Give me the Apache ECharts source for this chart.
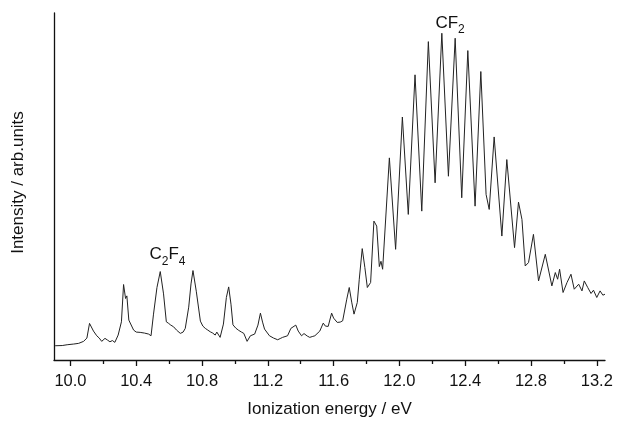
<!DOCTYPE html>
<html><head><meta charset="utf-8">
<script src="https://cdn.jsdelivr.net/npm/echarts@6/dist/echarts.min.js"></script>
<style>html,body{margin:0;padding:0;background:#fff}#c{width:617px;height:423px}</style>
</head><body><div id="c"></div>
<script>
// Photoelectron spectrum: ionization energy (eV) vs intensity (arb. units)
const energy = [
 9.907, 9.95, 9.98, 10.02, 10.05, 10.08, 10.10, 10.116, 10.14, 10.16,
 10.175, 10.19, 10.21, 10.225, 10.24, 10.255, 10.27, 10.29, 10.31, 10.323,
 10.335, 10.343, 10.355, 10.367, 10.384, 10.40, 10.424, 10.45, 10.475, 10.49,
 10.505, 10.526, 10.546, 10.566, 10.583, 10.597, 10.61, 10.627, 10.645, 10.668,
 10.685, 10.698, 10.719, 10.733, 10.745, 10.765, 10.79, 10.805, 10.82, 10.835,
 10.85, 10.865, 10.88, 10.89, 10.91, 10.93, 10.948, 10.962, 10.976, 10.988,
 11.005, 11.023, 11.04, 11.054, 11.074, 11.094, 11.12, 11.14, 11.155, 11.168,
 11.18, 11.21, 11.235, 11.26, 11.275, 11.29, 11.32, 11.34, 11.37, 11.385,
 11.405, 11.42, 11.43, 11.44, 11.455, 11.47, 11.486, 11.516, 11.537, 11.55,
 11.567, 11.588, 11.60, 11.622, 11.64, 11.655, 11.68, 11.695, 11.71, 11.724,
 11.744, 11.756, 11.774, 11.79, 11.805, 11.825, 11.845, 11.862, 11.878, 11.888,
 11.898, 11.939, 11.977, 12.018, 12.054, 12.095, 12.136, 12.176, 12.217, 12.258,
 12.298, 12.339, 12.379, 12.416, 12.46, 12.495, 12.527, 12.546, 12.576, 12.623,
 12.653, 12.70, 12.724, 12.745, 12.765, 12.785, 12.815, 12.846, 12.887, 12.927,
 12.948, 12.962, 12.974, 12.995, 13.019, 13.043, 13.063, 13.09, 13.11, 13.124,
 13.145, 13.165, 13.18, 13.20, 13.22, 13.237, 13.25
];
const intensity = [
 14.3, 14.5, 15.3, 16, 16.7, 18.7, 22, 36.7, 29, 24.3,
 22, 18.7, 21.7, 20, 18.3, 19.5, 17.7, 25, 38.3, 75.7,
 61.7, 64.3, 40, 41, 30, 28, 27.7, 27, 26, 24.3,
 46, 72.7, 88.7, 66.3, 38.3, 36.7, 35, 33.3, 30, 26.7,
 28, 31.7, 53, 76.3, 89.7, 69, 39, 34, 31.7, 30,
 28.3, 27, 25, 28, 22.7, 36, 62.7, 73.3, 56, 35.3,
 32, 29.7, 28, 26.7, 18.7, 24.3, 26, 35, 47, 38,
 31, 24.3, 22, 20.3, 21.5, 22.7, 24.3, 31.7, 35, 29,
 24.3, 26.5, 28, 24, 22.7, 23.5, 24.3, 29, 37, 34,
 33.7, 47, 42, 37.7, 38, 39.3, 61, 72.7, 58, 46,
 57.7, 81, 111.7, 92.7, 72.7, 77.7, 139.3, 134.3, 93.7, 99,
 91, 202.7, 111, 243.7, 146, 286, 149.3, 319.3, 177.7, 327.7,
 184.3, 322.7, 162.7, 310.3, 154.3, 289.3, 166, 151, 223.7, 124.3,
 201, 112.7, 158.3, 141, 94.3, 97.7, 126, 79.3, 106, 74.3,
 87.7, 81, 91, 67.7, 77.7, 86, 71, 76, 69.3, 79.3,
 72.7, 66.7, 70, 62.7, 69.3, 65, 66
];
const majorTicks = [10.0, 10.4, 10.8, 11.2, 11.6, 12.0, 12.4, 12.8, 13.2];
const minorTicks = [10.2, 10.6, 11.0, 11.4, 11.8, 12.2, 12.6, 13.0];
const labelText = ['{m|C}{s|2}{m|F}{s|4}', '{m|CF}{s|2}'];
const labelEnergy = [10.59, 12.308];
const labelIntensity = [106, 338];

const FONT = '"Liberation Sans", Arial, sans-serif';
const INK = '#111';
const xMin = 9.9, xMax = 13.25, yMin = 0, yMax = 348;
const gridBox = { left: 54, right: 12, top: 13, bottom: 62 };

const lineData = energy.map((e, i) => [e, intensity[i]]);
const annData = labelEnergy.map((e, i) => ({ value: [e, labelIntensity[i]], text: labelText[i] }));

const chart = echarts.init(document.getElementById('c'), null, { renderer: 'canvas' });
chart.setOption({
  animation: false,
  backgroundColor: '#fff',
  grid: [Object.assign({}, gridBox), Object.assign({}, gridBox)],
  xAxis: [{
    type: 'value', gridIndex: 0, min: xMin, max: xMax,
    name: 'Ionization energy / eV', nameLocation: 'middle', nameGap: 41,
    nameTextStyle: { fontFamily: FONT, fontSize: 17, color: INK },
    axisLine: { show: true, lineStyle: { color: INK, width: 1.3 } },
    axisTick: { show: true, inside: false, length: 6, customValues: majorTicks, lineStyle: { color: INK, width: 1.3 } },
    axisLabel: { show: true, margin: 13, customValues: majorTicks, fontFamily: FONT, fontSize: 16.5, color: INK,
      formatter: v => v.toFixed(1) },
    splitLine: { show: false }
  }, {
    type: 'value', gridIndex: 1, min: xMin, max: xMax, position: 'bottom',
    axisLine: { show: false },
    axisTick: { show: true, inside: false, length: 3, customValues: minorTicks, lineStyle: { color: INK, width: 1.3 } },
    axisLabel: { show: false },
    splitLine: { show: false }
  }],
  yAxis: [{
    type: 'value', gridIndex: 0, min: yMin, max: yMax,
    name: 'Intensity / arb.units', nameLocation: 'middle', nameGap: 27,
    nameTextStyle: { fontFamily: FONT, fontSize: 17, color: INK, padding: [0, 0, 0, 8] },
    axisLine: { show: true, lineStyle: { color: INK, width: 1.3 } },
    axisTick: { show: false }, axisLabel: { show: false }, splitLine: { show: false }
  }, {
    type: 'value', gridIndex: 1, min: yMin, max: yMax, show: false
  }],
  series: [{
    type: 'line', xAxisIndex: 0, yAxisIndex: 0, data: lineData,
    showSymbol: false, symbol: 'none', smooth: false,
    lineStyle: { color: '#222', width: 1 }, silent: true
  }, {
    type: 'scatter', xAxisIndex: 0, yAxisIndex: 0, data: annData,
    symbolSize: 1, itemStyle: { color: 'rgba(255,255,255,0)', opacity: 1 }, silent: true,
    label: {
      show: true, position: 'inside', color: INK, textBorderWidth: 0, formatter: p => p.data.text,
      rich: {
        m: { fontFamily: FONT, fontSize: 17, color: INK, textBorderWidth: 0 },
        s: { fontFamily: FONT, fontSize: 12, color: INK, textBorderWidth: 0, padding: [14, 0, 0, 0] }
      }
    }
  }]
});
</script></body></html>
